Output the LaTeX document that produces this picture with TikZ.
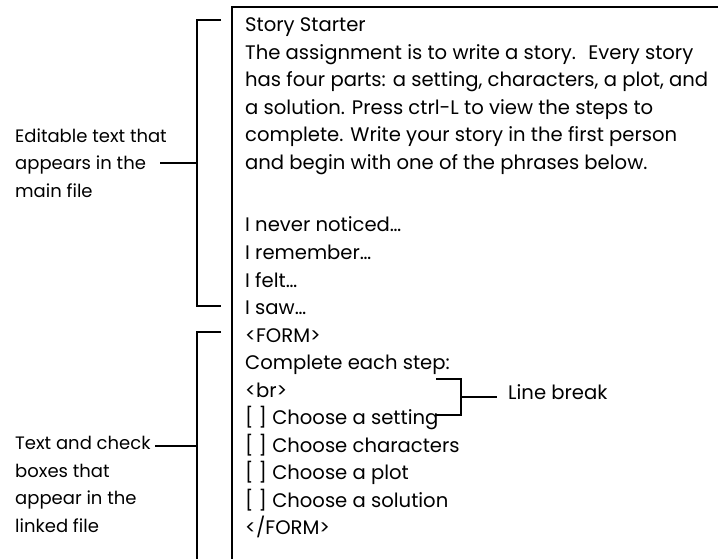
\documentclass[tikz,border=0pt]{standalone}
\usepackage{fontspec}
\setmainfont{Poppins}
\usetikzlibrary{positioning}

\begin{document}
\begin{tikzpicture}[x=1pt,y=-1pt,
  txt/.style ={font=\fontsize{19.6}{27.5}\selectfont,inner sep=0pt,anchor=base west},
  lbl/.style ={txt,align=left,font=\fontsize{18}{27.5}\selectfont},
  frame/.style ={line width=1.6pt},
  brace/.style ={line width=1.5pt}
]
  \useasboundingbox (0,0) rectangle (718,559);

  % ----- the file window: top and left edge -----
  \draw[frame] (718,7) -- (232,7) -- (232,559);

  % ----- text of the main file -----
  \foreach \t [count=\i] in {{Story Starter},
      {The assignment is to write a story.~ Every story},
      {has four parts: a setting, characters, a plot, and},
      {a solution. Press ctrl-L to view the steps to},
      {complete. Write your story in the first person},
      {and begin with one of the phrases below.}}
    \node[txt] (main\i) at (245,{32+27.5*(\i-1)}) {\t};

  % ----- phrases and the form -----
  \foreach \t [count=\i] in {{I never noticed\dots},{I remember\dots},
      {I felt\dots},{I saw\dots},{<FORM>},{Complete each step:},{<br>},
      {[ ] Choose a setting},{[ ] Choose characters},{[ ] Choose a plot},
      {[ ] Choose a solution},{</FORM>}}
    \node[txt] (form\i) at (245,{232+27.5*(\i-1)}) {\t};

  % ----- callout labels (base = last line) -----
  \node[lbl] (editlbl) at (15,197) {Editable text that\\appears in the\\main file};
  \node[lbl] (linklbl) at (15,532) {Text and check\\boxes that\\appear in the\\linked file};
  \node[txt] (brlbl) at (508,399) {Line break};

  % ----- brackets -----
  \coordinate (edit) at (197,163);
  \coordinate (editend) at (160,163);
  \coordinate (link) at (197,446);
  \coordinate (linkend) at (155,446);
  \coordinate (brk)  at (461,397);
  \coordinate (brkend) at (497,397);

  \draw[brace] (221,20) -| (197,306) -- (221,306);
  \draw[brace] (editend) -- (edit);

  \draw[brace] (221,332) -| (197,559);
  \draw[brace] (linkend) -- (link);

  \draw[brace] (436,379) -| (461,415) -- (436,415);
  \draw[brace] (brk) -- (brkend);
\end{tikzpicture}
\end{document}
